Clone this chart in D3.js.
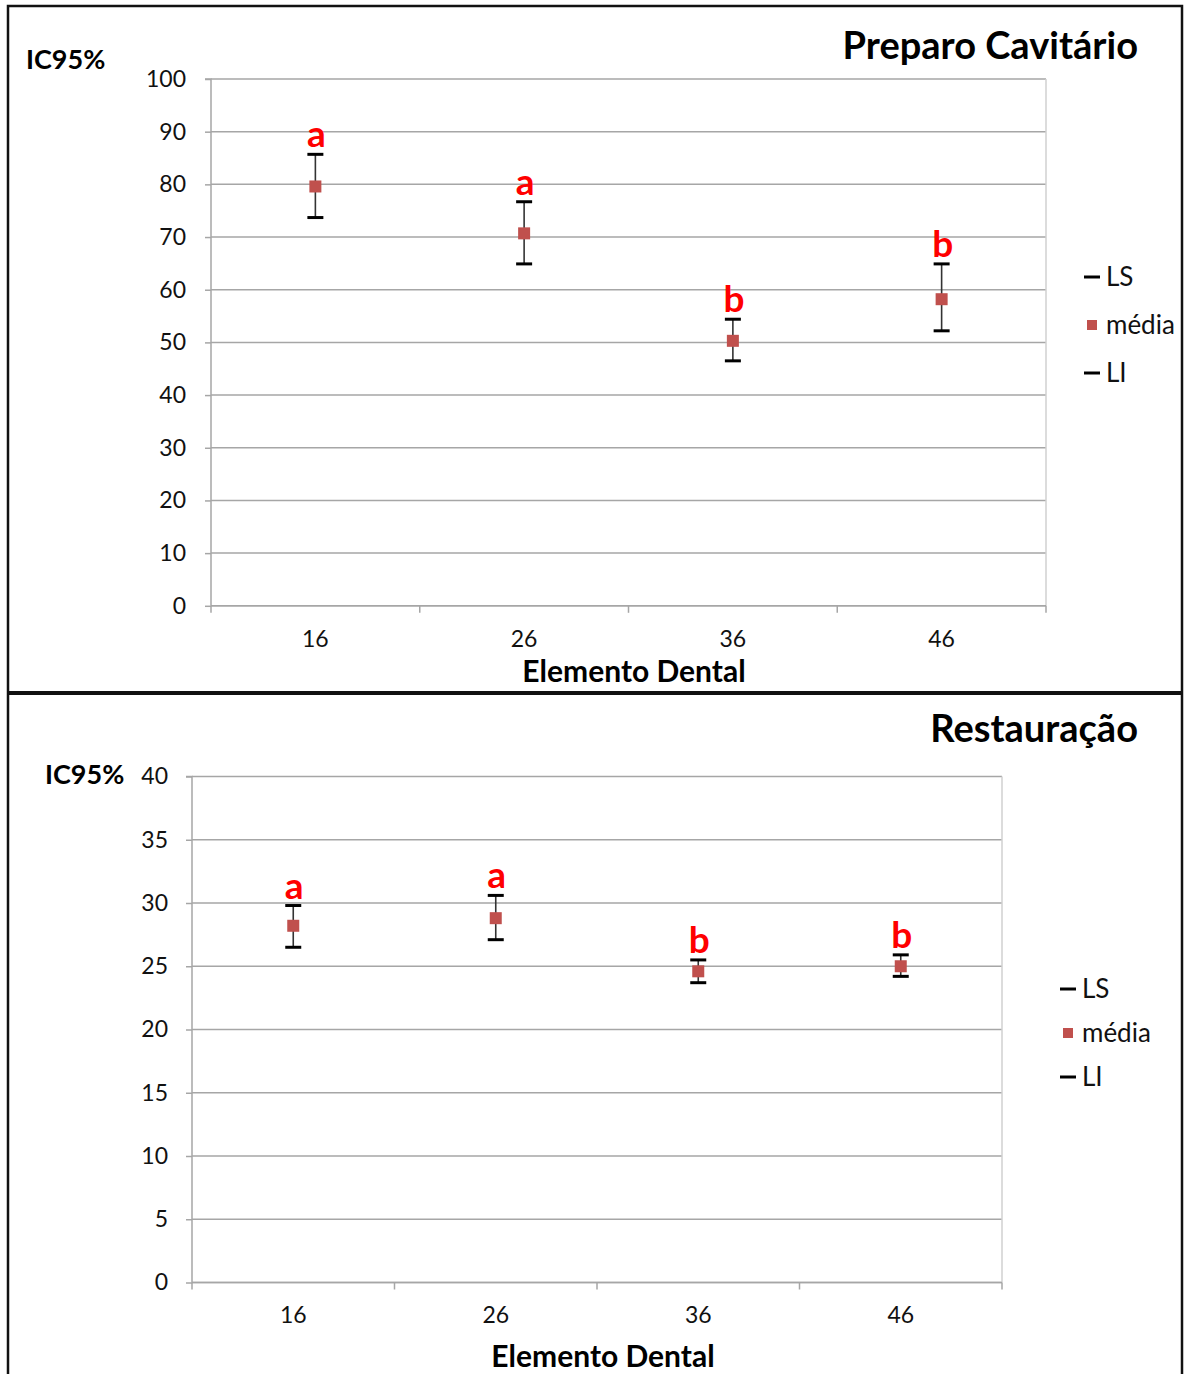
<!DOCTYPE html>
<html>
<head>
<meta charset="utf-8">
<script src="https://cdn.jsdelivr.net/npm/d3@7"></script>
<style>
  html, body { margin: 0; padding: 0; background: #fff; }
  svg { display: block; font-family: Lato, "Open Sans", sans-serif; }
</style>
</head>
<body>
<svg id="chart" width="1184" height="1374"></svg>
<script>
// Tooth elements on the x axis
const categories = ["16", "26", "36", "46"];

// Cavity preparation: 95% CI upper limit (LS), mean (média), lower limit (LI)
const prepLS    = [85.7, 76.7, 54.4, 64.9];
const prepMedia = [79.6, 70.7, 50.3, 58.2];
const prepLI    = [73.7, 64.9, 46.5, 52.2];
const prepLetters = ["a", "a", "b", "b"];
const prepTicks = [0, 10, 20, 30, 40, 50, 60, 70, 80, 90, 100];

// Restoration: 95% CI upper limit (LS), mean (média), lower limit (LI)
const restLS    = [29.8, 30.6, 25.5, 25.9];
const restMedia = [28.2, 28.8, 24.6, 25.0];
const restLI    = [26.5, 27.1, 23.7, 24.2];
const restLetters = ["a", "a", "b", "b"];
const restTicks = [0, 5, 10, 15, 20, 25, 30, 35, 40];

const legendItems = ["LS", "média", "LI"];

const svg = d3.select("#chart");
const GRID = "#a6a6a6";
const MEAN = "#c0504d";

// Panel frames
svg.append("rect").attr("x", 8).attr("y", 6).attr("width", 1174).attr("height", 1400)
  .attr("fill", "none").attr("stroke", "#111").attr("stroke-width", 2.5);
svg.append("line").attr("x1", 8).attr("x2", 1182).attr("y1", 693).attr("y2", 693)
  .attr("stroke", "#111").attr("stroke-width", 4);

function drawPanel(o) {
  const g = svg.append("g");
  const x = d3.scaleBand().domain(categories).range([o.left, o.right]);
  const y = d3.scaleLinear().domain([0, d3.max(o.ticks)]).range([o.bottom, o.top]);

  // horizontal gridlines
  g.append("g").selectAll("line").data(o.ticks).join("line")
    .attr("x1", o.left).attr("x2", o.right)
    .attr("y1", d => y(d)).attr("y2", d => y(d))
    .attr("stroke", GRID).attr("stroke-width", 1.5);
  // right edge of the plot area
  g.append("line").attr("x1", o.right).attr("x2", o.right)
    .attr("y1", o.top).attr("y2", o.bottom)
    .attr("stroke", "#d0d0d0").attr("stroke-width", 1.5);

  // y axis
  const yAxis = g.append("g").attr("transform", `translate(${o.left},0)`)
    .call(d3.axisLeft(y).tickValues(o.ticks).tickSize(6).tickPadding(o.yPad));
  yAxis.select(".domain").attr("stroke", GRID).attr("stroke-width", 1.5)
    .attr("d", `M-6,${y(d3.max(o.ticks))}H0V${o.bottom}`);
  yAxis.selectAll(".tick line").attr("stroke", GRID).attr("stroke-width", 1.5);
  yAxis.selectAll(".tick text").attr("font-size", 23).attr("fill", "#111")
    .attr("font-family", "Lato, sans-serif");

  // x axis, ticks at the category boundaries
  const xAxis = g.append("g").attr("transform", `translate(0,${o.bottom})`)
    .call(d3.axisBottom(x).tickSize(0).tickPadding(o.xPad));
  xAxis.select(".domain").attr("stroke", GRID).attr("stroke-width", 1.5)
    .attr("d", `M${o.left},0H${o.right}`);
  xAxis.selectAll(".tick text").attr("font-size", 23).attr("fill", "#111")
    .attr("font-family", "Lato, sans-serif");
  const bounds = categories.map(c => x(c)).concat([o.right]);
  g.append("g").selectAll("line").data(bounds).join("line")
    .attr("x1", d => d).attr("x2", d => d)
    .attr("y1", o.bottom).attr("y2", o.bottom + 7)
    .attr("stroke", GRID).attr("stroke-width", 1.5);

  const cx = c => x(c) + x.bandwidth() / 2;
  const rows = categories.map((c, i) => ({ c, ls: o.ls[i], m: o.media[i], li: o.li[i], t: o.letters[i] }));
  const marks = g.append("g");
  // whiskers
  marks.selectAll(".whisker").data(rows).join("line")
    .attr("x1", d => cx(d.c)).attr("x2", d => cx(d.c))
    .attr("y1", d => y(d.ls)).attr("y2", d => y(d.li))
    .attr("stroke", "#333").attr("stroke-width", 1.6);
  // caps for LS and LI
  ["ls", "li"].forEach(k => {
    marks.selectAll(".cap-" + k).data(rows).join("line")
      .attr("x1", d => cx(d.c) - 8).attr("x2", d => cx(d.c) + 8)
      .attr("y1", d => y(d[k])).attr("y2", d => y(d[k]))
      .attr("stroke", "#000").attr("stroke-width", 3);
  });
  // mean markers
  marks.selectAll(".mean").data(rows).join("rect")
    .attr("x", d => cx(d.c) - 6).attr("y", d => y(d.m) - 6)
    .attr("width", 12).attr("height", 12).attr("fill", MEAN);
  // significance letters
  marks.selectAll(".letter").data(rows).join("text")
    .attr("x", d => cx(d.c) + 1).attr("y", d => y(d.ls) - 7)
    .attr("text-anchor", "middle").attr("font-size", 37).attr("font-weight", 700)
    .attr("fill", "#ff0000").text(d => d.t);

  // titles
  g.append("text").attr("x", o.titleX).attr("y", o.titleY).attr("text-anchor", "end")
    .attr("font-size", 38).attr("font-weight", 700).attr("fill", "#000").text(o.title);
  g.append("text").attr("x", o.icX).attr("y", o.icY)
    .attr("font-size", 27).attr("font-weight", 700).attr("fill", "#000").text("IC95%");
  g.append("text").attr("x", o.xTitleX).attr("y", o.xTitleY).attr("text-anchor", "middle")
    .attr("font-size", 30).attr("font-weight", 700).attr("fill", "#000").text("Elemento Dental");

  // legend
  const lg = g.append("g").attr("transform", `translate(${o.legX},${o.legY})`);
  legendItems.forEach((name, i) => {
    const yy = i * o.legGap;
    if (name === "média") {
      lg.append("rect").attr("x", 3).attr("y", yy - 5).attr("width", 10).attr("height", 10).attr("fill", MEAN);
    } else {
      lg.append("line").attr("x1", 0).attr("x2", 16).attr("y1", yy).attr("y2", yy)
        .attr("stroke", "#000").attr("stroke-width", 3);
    }
    lg.append("text").attr("x", 22).attr("y", yy).attr("dy", "0.35em")
      .attr("font-size", 26).attr("fill", "#111").text(name);
  });
}

drawPanel({
  left: 211, right: 1046, top: 79, bottom: 605.8,
  ticks: prepTicks, ls: prepLS, media: prepMedia, li: prepLI, letters: prepLetters,
  yPad: 19, xPad: 25,
  title: "Preparo Cavitário", titleX: 1138, titleY: 59,
  icX: 26, icY: 69, xTitleX: 634, xTitleY: 682,
  legX: 1084, legY: 277, legGap: 48
});

drawPanel({
  left: 192, right: 1002, top: 776.5, bottom: 1282.5,
  ticks: restTicks, ls: restLS, media: restMedia, li: restLI, letters: restLetters,
  yPad: 18, xPad: 24,
  title: "Restauração", titleX: 1138, titleY: 742,
  icX: 45, icY: 784, xTitleX: 603, xTitleY: 1367,
  legX: 1060, legY: 989, legGap: 44
});
</script>
</body>
</html>
